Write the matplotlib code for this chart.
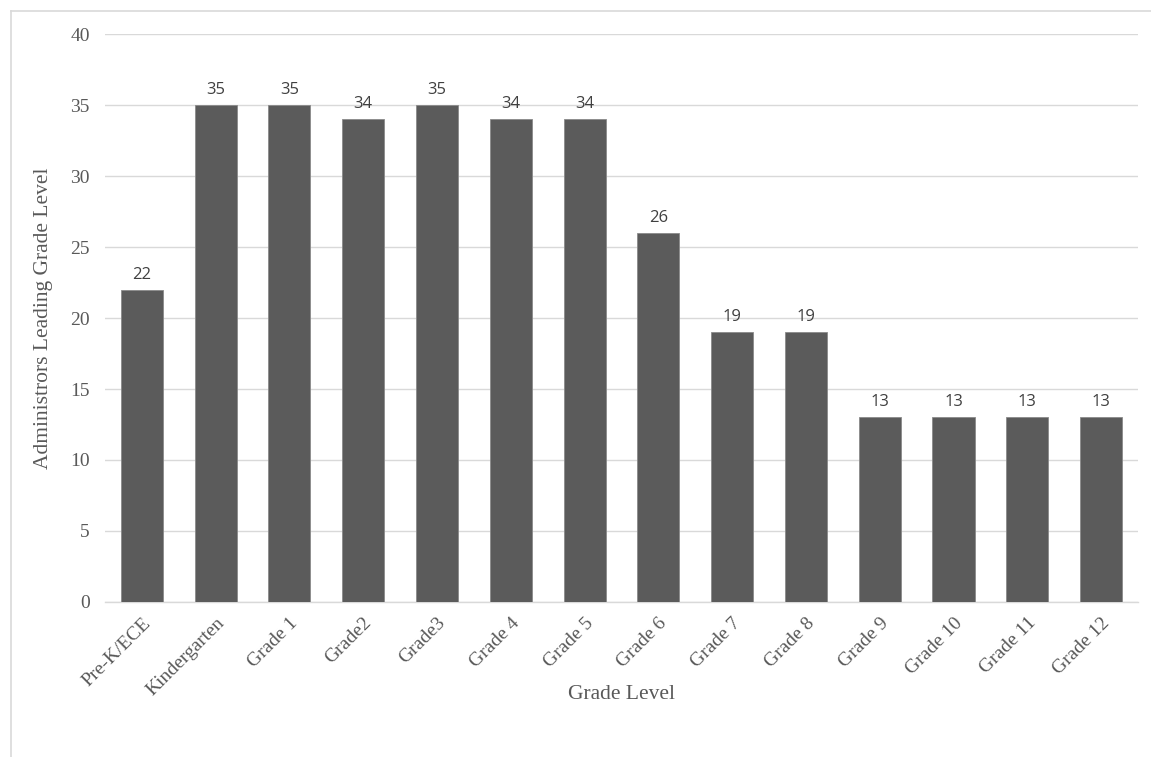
import matplotlib
matplotlib.use("Agg")
import matplotlib.pyplot as plt
from matplotlib.lines import Line2D

grades = ["Pre-K/ECE", "Kindergarten", "Grade 1", "Grade2", "Grade3", "Grade 4",
          "Grade 5", "Grade 6", "Grade 7", "Grade 8", "Grade 9", "Grade 10",
          "Grade 11", "Grade 12"]
admins = [22, 35, 35, 34, 35, 34, 34, 26, 19, 19, 13, 13, 13, 13]
y_ticks = [0, 5, 10, 15, 20, 25, 30, 35, 40]

serif = ["Liberation Serif", "DejaVu Serif"]
sans = ["Open Sans", "Liberation Sans", "DejaVu Sans"]
txt = "#595959"

fig = plt.figure(figsize=(11.51, 7.57), dpi=100)
ax = fig.add_axes([0.0912, 0.2048, 0.8975, 0.7502])

x = range(len(grades))
bars = ax.bar(x, admins, width=0.57, color="#5b5b5b", edgecolor="#8a8a8a",
              linewidth=0.6, zorder=3)
for b, v in zip(bars, admins):
    ax.annotate(str(v), (b.get_x() + b.get_width() / 2, v), xytext=(0, 5),
                textcoords="offset points", ha="center", va="bottom",
                fontsize=12, family=sans, color="#404040")

ax.set_xlim(-0.5, len(grades) - 0.5)
ax.set_ylim(0, 40)
ax.set_yticks(y_ticks)
ax.yaxis.grid(True, color="#d9d9d9", linewidth=1.0, zorder=0)
ax.set_axisbelow(True)
for s in ["top", "right", "left"]:
    ax.spines[s].set_visible(False)
ax.spines["bottom"].set_color("#d9d9d9")
ax.spines["bottom"].set_linewidth(1.0)
ax.tick_params(axis="both", length=0, colors=txt)
ax.tick_params(axis="y", pad=11)
ax.tick_params(axis="x", pad=9)
ax.set_xticks(list(x))
ax.set_xticklabels(grades, rotation=45, ha="right", rotation_mode="anchor",
                   family=serif, fontsize=14, color=txt)
for lab in ax.get_yticklabels():
    lab.set_family(serif)
    lab.set_fontsize(14)
    lab.set_color(txt)

fig.text(0.5397, 0.083, "Grade Level", ha="center", va="center",
         family=serif, fontsize=15.5, color=txt)
fig.text(0.038, 0.58, "Administrors Leading Grade Level", ha="center",
         va="center", rotation=90, family=serif, fontsize=15.5, color=txt)

# chart frame (top and left edges)
fig.add_artist(Line2D([0.0096, 1.0], [0.9855, 0.9855], color="#d9d9d9",
                      linewidth=1.2, transform=fig.transFigure))
fig.add_artist(Line2D([0.0096, 0.0096], [0.0, 0.9855], color="#d9d9d9",
                      linewidth=1.2, transform=fig.transFigure))

fig.savefig("out.png", dpi=100)
